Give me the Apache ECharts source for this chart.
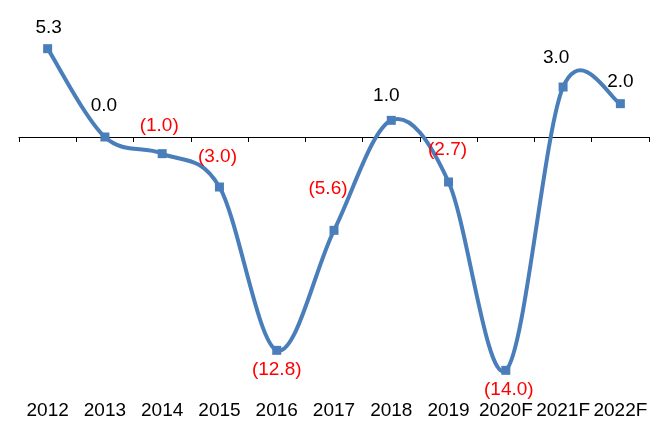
<!DOCTYPE html>
<html>
<head>
<meta charset="utf-8">
<script src="https://cdn.jsdelivr.net/npm/echarts@6/dist/echarts.min.js"></script>
<style>
html,body{margin:0;padding:0;background:#fff;}
#chart{width:661px;height:421px;}
</style>
</head>
<body>
<div id="chart"></div>
<script>
const categories = ['2012','2013','2014','2015','2016','2017','2018','2019','2020F','2021F','2022F'];
const values = [5.3, 0.0, -1.0, -3.0, -12.8, -5.6, 1.0, -2.7, -14.0, 3.0, 2.0];

const labelOffsets = [[1,-21],[-1,-31],[-3,-28],[-2,-30],[0,19],[-6,-42],[-5,-25],[-1,-32],[3,19],[-7,-29],[0,-22]];
const FONT = 'Liberation Sans, Arial, sans-serif';
const BLUE = '#4A7EBB';

function fmt(v){ return v < 0 ? '(' + Math.abs(v).toFixed(1) + ')' : v.toFixed(1); }

const seriesData = values.map((v,i)=>({
  value: v,
  label: {
    show: true,
    position: 'inside',
    offset: labelOffsets[i],
    formatter: fmt(v),
    color: v < 0 ? '#FF0000' : '#000000'
  }
}));

// Smooth curve (Catmull-Rom style bezier) drawn through the chart's own scales
function renderCurve(params, api){
  if (params.dataIndex !== 0) return null;
  const pts = values.map((v,i)=>api.coord([i, v]));
  const n = pts.length;
  const k = 1/6;
  let d = 'M' + pts[0][0] + ' ' + pts[0][1];
  for (let i = 0; i < n - 1; i++){
    const p0 = pts[Math.max(i-1,0)], p1 = pts[i], p2 = pts[i+1], p3 = pts[Math.min(i+2,n-1)];
    const c1 = [p1[0] + (p2[0]-p0[0])*k, p1[1] + (p2[1]-p0[1])*k];
    const c2 = [p2[0] - (p3[0]-p1[0])*k, p2[1] - (p3[1]-p1[1])*k];
    d += ' C' + c1[0] + ' ' + c1[1] + ' ' + c2[0] + ' ' + c2[1] + ' ' + p2[0] + ' ' + p2[1];
  }
  return {
    type: 'path',
    shape: { pathData: d },
    style: { fill: null, stroke: BLUE, lineWidth: 4, lineJoin: 'round', lineCap: 'round' },
    z2: 1
  };
}

const chart = echarts.init(document.getElementById('chart'));
chart.setOption({
  animation: false,
  backgroundColor: '#ffffff',
  textStyle: { fontFamily: FONT },
  grid: { left: 19, right: 12, top: 37, bottom: 34 },
  xAxis: [
    {
      type: 'category',
      data: categories,
      boundaryGap: true,
      axisLine: { show: true, onZero: true, lineStyle: { color: '#000', width: 1 } },
      axisTick: { show: true, length: 5, lineStyle: { color: '#000' } },
      axisLabel: { show: false },
      splitLine: { show: false }
    },
    {
      type: 'category',
      data: categories,
      position: 'bottom',
      boundaryGap: true,
      axisLine: { show: false, onZero: false },
      axisTick: { show: false },
      axisLabel: { show: true, margin: 14, fontSize: 19, color: '#000', interval: 0, fontFamily: FONT },
      splitLine: { show: false }
    }
  ],
  yAxis: {
    type: 'value',
    min: -15,
    max: 6,
    show: false,
    splitLine: { show: false }
  },
  series: [
    {
      type: 'custom',
      xAxisIndex: 0,
      renderItem: renderCurve,
      data: values.map((v,i)=>[i, v]),
      z: 2,
      silent: true
    },
    {
      type: 'line',
      xAxisIndex: 0,
      data: seriesData,
      symbol: 'rect',
      symbolSize: 9,
      lineStyle: { width: 0, opacity: 0 },
      itemStyle: { color: BLUE },
      label: { fontSize: 19, fontFamily: FONT },
      z: 3
    }
  ]
});
</script>
</body>
</html>
